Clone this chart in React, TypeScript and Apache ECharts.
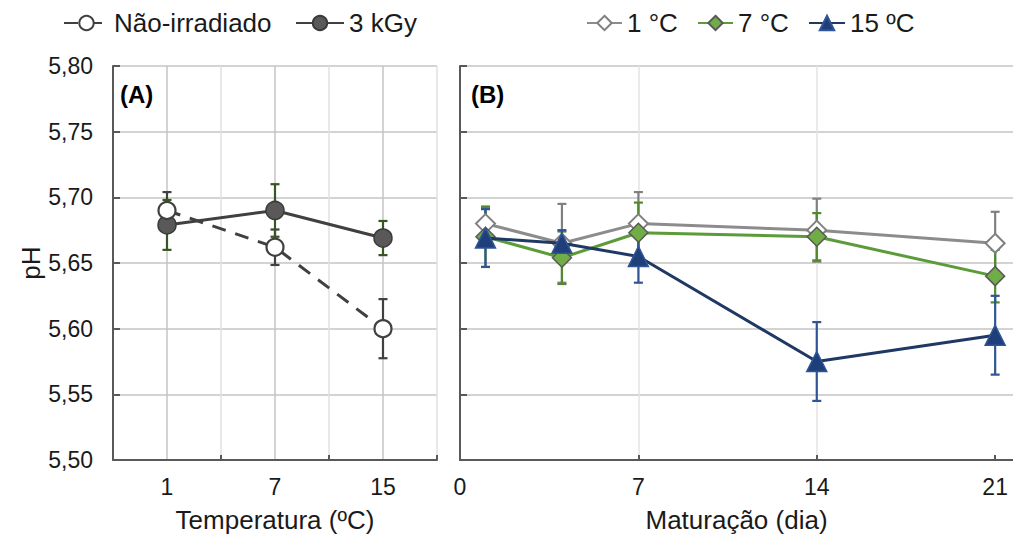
import React, { useEffect, useRef } from "react";
import * as echarts from "echarts";

const tempCats = ["1", "7", "15"];
const naoMean = [5.69, 5.662, 5.6];
const naoErr = [0.014, 0.0135, 0.0225];
const kgyMean = [5.679, 5.69, 5.669];
const kgyErr = [0.019, 0.02, 0.013];

const days = [1, 4, 7, 14, 21];
const c1Mean = [5.68, 5.665, 5.68, 5.675, 5.665];
const c1Err = [0.012, 0.03, 0.024, 0.024, 0.024];
const c7Mean = [5.67, 5.654, 5.673, 5.67, 5.64];
const c7Err = [0.023, 0.02, 0.023, 0.018, 0.02];
const c15Mean = [5.669, 5.665, 5.655, 5.575, 5.595];
const c15Err = [0.022, 0.01, 0.02, 0.03, 0.03];

const yMin = 5.5;
const yMax = 5.8;
const yStep = 0.05;
const dayTicks = [0, 7, 14, 21];
const dayMax = 21.7;

const FONT = "Liberation Sans";
const TXT = "#1a1a1a";
const AXIS = "#595959";

function errRender(color: string) {
  return (params: any, api: any) => {
    const x = api.value(0);
    const lo = api.coord([x, api.value(1)]);
    const hi = api.coord([x, api.value(2)]);
    const w = 4.5;
    const st = { stroke: color, lineWidth: 2.2 };
    return {
      type: "group",
      children: [
        { type: "line", shape: { x1: lo[0], y1: lo[1], x2: hi[0], y2: hi[1] }, style: st },
        { type: "line", shape: { x1: lo[0] - w, y1: lo[1], x2: lo[0] + w, y2: lo[1] }, style: st },
        { type: "line", shape: { x1: hi[0] - w, y1: hi[1], x2: hi[0] + w, y2: hi[1] }, style: st },
      ],
    };
  };
}

function yAxisCfg(gridIndex: number, showLabels: boolean) {
  return {
    type: "value",
    gridIndex,
    min: yMin,
    max: yMax,
    interval: yStep,
    name: showLabels ? "pH" : "",
    nameLocation: "middle",
    nameGap: 64,
    nameTextStyle: { fontFamily: FONT, fontSize: 26, color: TXT },
    axisLine: { show: true, lineStyle: { color: AXIS, width: 2 } },
    axisTick: { show: true, inside: true, length: 7, lineStyle: { color: AXIS, width: 2 } },
    axisLabel: {
      show: showLabels,
      margin: 20,
      fontFamily: FONT,
      fontSize: 23,
      color: TXT,
      formatter: (v: number) => v.toFixed(2).replace(".", ","),
    },
    splitLine: { show: true, lineStyle: { color: "#c4c4c4", width: 1.5 } },
  };
}

function legendCfg(name: string, left: number, w: number) {
  return {
    data: [name],
    left,
    top: 5,
    itemWidth: w,
    itemHeight: 18,
    itemGap: 0,
    textStyle: { fontFamily: FONT, fontSize: 26, color: TXT },
  };
}

export default function App() {
  const ref = useRef<HTMLDivElement>(null);
  useEffect(() => {
    document.body.style.margin = "0";
    const chart = echarts.init(ref.current!, undefined, { renderer: "svg" });
    const catIdx = tempCats.map((_, i) => i);
    const option: any = {
      animation: false,
      backgroundColor: "#ffffff",
      legend: [
        legendCfg("Não-irradiado", 58, 45),
        legendCfg("3 kGy", 290, 48),
        legendCfg("1 °C", 581, 35),
        legendCfg("7 °C", 692, 35),
        legendCfg("15 ºC", 803, 36),
      ],
      grid: [
        { left: 113, top: 66, width: 324, height: 394 },
        { left: 460, top: 66, right: 0, height: 394 },
      ],
      xAxis: [
        {
          type: "category",
          gridIndex: 0,
          data: tempCats,
          boundaryGap: true,
          name: "Temperatura (ºC)",
          nameLocation: "middle",
          nameGap: 47,
          nameTextStyle: { fontFamily: FONT, fontSize: 26, color: TXT },
          axisLine: { lineStyle: { color: AXIS, width: 2 } },
          axisTick: { show: true, inside: true, length: 5, lineStyle: { color: AXIS, width: 2 } },
          axisLabel: { margin: 15, fontFamily: FONT, fontSize: 23, color: TXT },
          splitLine: { show: false },
        },
        {
          type: "category",
          gridIndex: 0,
          data: ["", "", "", "", "", "", ""],
          boundaryGap: false,
          position: "top",
          axisLine: { show: false },
          axisTick: { show: false },
          axisLabel: { show: false },
          splitLine: { show: true, lineStyle: { color: ["#e0e0e0", "#c4c4c4"], width: 1.5 } },
        },
        {
          type: "value",
          gridIndex: 1,
          min: 0,
          max: dayMax,
          interval: 1,
          name: "Maturação (dia)",
          nameLocation: "middle",
          nameGap: 47,
          nameTextStyle: { fontFamily: FONT, fontSize: 26, color: TXT },
          axisLine: { lineStyle: { color: AXIS, width: 2 } },
          axisTick: {
            show: true,
            inside: true,
            length: 5,
            customValues: dayTicks,
            lineStyle: { color: AXIS, width: 2 },
          },
          axisLabel: {
            margin: 15,
            fontFamily: FONT,
            fontSize: 23,
            color: TXT,
            customValues: dayTicks,
            formatter: (v: number) => (dayTicks.indexOf(v) >= 0 ? String(v) : ""),
          },
          splitLine: {
            show: true,
            showMaxLine: false,
            lineStyle: {
              color: ["#c4c4c4", "#e3e3e3", "#e3e3e3", "#e3e3e3", "#e3e3e3", "#e3e3e3", "#e3e3e3"],
              width: 1.5,
            },
          },
        },
      ],
      yAxis: [yAxisCfg(0, true), yAxisCfg(1, false)],
      graphic: [
        { type: "text", left: 120, top: 82, style: { text: "(A)", font: `bold 24px "${FONT}"`, fill: "#000" } },
        { type: "text", left: 471, top: 82, style: { text: "(B)", font: `bold 24px "${FONT}"`, fill: "#000" } },
      ],
      series: [
        {
          type: "custom",
          name: "errNao",
          xAxisIndex: 0,
          yAxisIndex: 0,
          z: 1,
          renderItem: errRender("#404040"),
          data: catIdx.map((i) => [i, naoMean[i] - naoErr[i], naoMean[i] + naoErr[i]]),
          encode: { x: 0, y: [1, 2] },
        },
        {
          type: "custom",
          name: "errKgy",
          xAxisIndex: 0,
          yAxisIndex: 0,
          z: 1,
          renderItem: errRender("#375623"),
          data: catIdx.map((i) => [i, kgyMean[i] - kgyErr[i], kgyMean[i] + kgyErr[i]]),
          encode: { x: 0, y: [1, 2] },
        },
        {
          type: "line",
          name: "3 kGy",
          xAxisIndex: 0,
          yAxisIndex: 0,
          z: 3,
          data: kgyMean,
          symbol: "circle",
          symbolSize: 18,
          lineStyle: { color: "#404040", width: 3 },
          itemStyle: { color: "#595959", borderColor: "#3a3a3a", borderWidth: 1.5 },
        },
        {
          type: "line",
          name: "Não-irradiado",
          xAxisIndex: 0,
          yAxisIndex: 0,
          z: 4,
          data: naoMean,
          symbol: "circle",
          symbolSize: 17,
          lineStyle: { color: "#404040", width: 3, type: [14, 10] },
          itemStyle: { color: "#ffffff", borderColor: "#404040", borderWidth: 2.2 },
        },
        {
          type: "custom",
          name: "err1",
          xAxisIndex: 2,
          yAxisIndex: 1,
          z: 1,
          renderItem: errRender("#808080"),
          data: days.map((d, i) => [d, c1Mean[i] - c1Err[i], c1Mean[i] + c1Err[i]]),
          encode: { x: 0, y: [1, 2] },
        },
        {
          type: "custom",
          name: "err7",
          xAxisIndex: 2,
          yAxisIndex: 1,
          z: 1,
          renderItem: errRender("#4f8a2c"),
          data: days.map((d, i) => [d, c7Mean[i] - c7Err[i], c7Mean[i] + c7Err[i]]),
          encode: { x: 0, y: [1, 2] },
        },
        {
          type: "custom",
          name: "err15",
          xAxisIndex: 2,
          yAxisIndex: 1,
          z: 1,
          renderItem: errRender("#2f5597"),
          data: days.map((d, i) => [d, c15Mean[i] - c15Err[i], c15Mean[i] + c15Err[i]]),
          encode: { x: 0, y: [1, 2] },
        },
        {
          type: "line",
          name: "1 °C",
          xAxisIndex: 2,
          yAxisIndex: 1,
          z: 3,
          data: days.map((d, i) => [d, c1Mean[i]]),
          symbol: "diamond",
          symbolSize: 19,
          lineStyle: { color: "#8c8c8c", width: 3 },
          itemStyle: { color: "#ffffff", borderColor: "#808080", borderWidth: 2 },
        },
        {
          type: "line",
          name: "7 °C",
          xAxisIndex: 2,
          yAxisIndex: 1,
          z: 4,
          data: days.map((d, i) => [d, c7Mean[i]]),
          symbol: "diamond",
          symbolSize: 19,
          lineStyle: { color: "#5b9b3a", width: 3 },
          itemStyle: { color: "#70ad47", borderColor: "#595959", borderWidth: 1.5 },
        },
        {
          type: "line",
          name: "15 ºC",
          xAxisIndex: 2,
          yAxisIndex: 1,
          z: 5,
          data: days.map((d, i) => [d, c15Mean[i]]),
          symbol: "triangle",
          symbolSize: 20,
          lineStyle: { color: "#203864", width: 3 },
          itemStyle: { color: "#1f3f7a", borderColor: "#2f5597", borderWidth: 1.5 },
        },
      ],
    };
    chart.setOption(option);
    return () => chart.dispose();
  }, []);
  return <div ref={ref} style={{ width: 1013, height: 541 }} />;
}
